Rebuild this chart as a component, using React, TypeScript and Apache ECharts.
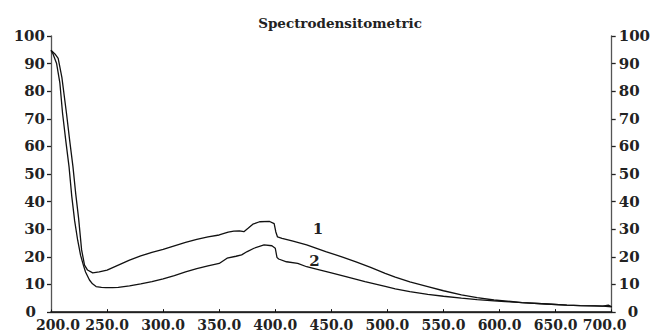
import React, { useEffect, useRef } from "react";
import * as echarts from "echarts";

const chartTitle = "Spectrodensitometric";
const xTickMin = 200;
const xTickMax = 700;
const xTickStep = 50;
const yTickMin = 0;
const yTickMax = 100;
const yTickStep = 10;

const wavelength1 = [
  200, 203.5, 206.4, 209.7, 213.8, 216.7, 219.6, 222, 224.6, 227.3, 229.9, 232.6, 237.2, 243, 250,
  260, 270, 280, 290, 300, 310, 320, 330, 340, 350, 358, 363, 368, 372, 376, 380, 386, 395, 399,
  400.5, 402, 406, 415, 428, 445, 460, 472, 485, 498, 507, 520, 536, 550, 566, 580, 595, 610, 620,
  642, 660, 672, 685, 692, 697, 700,
];
const absorb1 = [
  94.8, 93.5, 91.9, 85, 72, 62, 52.6, 43, 34, 22.5, 17, 15.2, 14.2, 14.5, 15.2,
  17, 18.8, 20.3, 21.6, 22.7, 24.0, 25.2, 26.3, 27.2, 27.9, 28.9, 29.3, 29.4, 29.1, 30.4, 31.8,
  32.7, 32.8, 32.0, 29, 27.2, 26.7, 25.8, 24.3, 21.9, 19.9, 18.2, 16.2, 14.0, 12.6, 10.9, 9.2,
  7.7, 6.2, 5.2, 4.35, 3.8, 3.4, 2.9, 2.5, 2.3, 2.2, 2.1, 2.5, 1.9,
];

const wavelength2 = [
  200, 201.8, 205, 207.9, 210.3, 213.2, 216.1, 218.5, 221.1, 223.8, 226.4, 229, 230.8, 234.3, 237,
  240.2, 245, 249, 255, 260, 270, 280, 290, 300, 310, 320, 330, 340, 350, 357, 365, 370, 375, 381,
  390, 397, 400, 401.5, 403, 410, 420, 428, 434, 450, 463, 480, 498, 507, 520, 536, 550, 566, 580,
  595, 605, 610, 620, 642, 660, 672, 685, 692, 700,
];
const absorb2 = [
  94.8, 93.5, 90, 83, 72, 62, 52.6, 42, 33, 26, 20.5, 16.8, 14.5, 11.6, 10.2, 9.2, 8.9,
  8.8, 8.8, 8.9, 9.5, 10.2, 11.0, 12.0, 13.2, 14.5, 15.7, 16.7, 17.6, 19.5, 20.2, 20.7, 21.9,
  23.1, 24.3, 24.0, 23.1, 19.8, 19.2, 18.2, 17.6, 16.4, 15.8, 14.2, 12.8, 11.0, 9.3, 8.4, 7.4,
  6.4, 5.7, 5.0, 4.5, 4.0, 3.75, 3.7, 3.4, 2.9, 2.5, 2.3, 2.2, 2.1, 1.9,
];

const seriesNames = ["1", "2"];
const labelCoords: [number, number][] = [
  [438, 30],
  [435, 18.6],
];

const FONT = "DejaVu Serif";

export default function App() {
  const ref = useRef<HTMLDivElement>(null);
  useEffect(() => {
    if (!ref.current) return;
    const chart = echarts.init(ref.current, undefined, { renderer: "svg" });
    const pairs = (xs: number[], ys: number[]) => xs.map((x, i) => [x, ys[i]]);
    const seriesData = [pairs(wavelength1, absorb1), pairs(wavelength2, absorb2)];
    const axisLine = { show: true, lineStyle: { color: "#555", width: 1.3 } };
    const lblFont = { fontFamily: FONT, fontWeight: "bold", fontSize: 14, color: "#222" };
    const yFont = { fontFamily: FONT, fontWeight: "bold", fontSize: 15, color: "#222" };
    const yAxisBase = (pos: "left" | "right", pad: number[]) => ({
      type: "value",
      position: pos,
      min: yTickMin,
      max: yTickMax,
      interval: yTickStep,
      axisLine,
      axisTick: { show: true, inside: false, length: 4, lineStyle: { color: "#222", width: 1.3 } },
      splitLine: { show: false },
      axisLabel: {
        margin: pos === "left" ? 6 : 7,
        ...yFont,
        formatter: (v: number) => (v === yTickMin ? `{zero|${v}}` : `${v}`),
        rich: { zero: { ...yFont, padding: pad } },
      },
    });
    chart.setOption({
      animation: false,
      backgroundColor: "#fff",
      title: {
        text: chartTitle,
        left: 335,
        top: 11,
        textAlign: "center",
        textStyle: { fontFamily: FONT, fontWeight: "bold", fontSize: 13.5, color: "#222" },
      },
      grid: { left: 51, right: 34, top: 36, bottom: 20, containLabel: false },
      xAxis: [
        {
          type: "value",
          position: "bottom",
          min: xTickMin,
          max: xTickMax,
          interval: xTickStep,
          axisLine,
          axisTick: { show: true, inside: true, length: 3, lineStyle: { color: "#333" } },
          splitLine: { show: false },
          axisLabel: {
            margin: 6,
            ...lblFont,
            formatter: (v: number) => {
              const s = v.toFixed(1);
              if (v === xTickMin) return `{first|${s}}`;
              if (v === xTickMax) return `{last|${s}}`;
              return s;
            },
            rich: {
              first: { ...lblFont, padding: [0, 0, 0, 14] },
              last: { ...lblFont, padding: [0, 14, 0, 0] },
            },
          },
        },
        {
          type: "value",
          position: "top",
          min: xTickMin,
          max: xTickMax,
          interval: xTickStep,
          axisLine: { show: true, lineStyle: { color: "#111", width: 1.6 } },
          axisTick: { show: true, inside: false, length: 2, lineStyle: { color: "#111" } },
          splitLine: { show: false },
          axisLabel: { show: false },
        },
      ],
      yAxis: [yAxisBase("left", [0, 9, 0, 0]), yAxisBase("right", [0, 0, 0, 9])],
      series: seriesData.map((d, i) => ({
        type: "line",
        name: seriesNames[i],
        data: d,
        xAxisIndex: 0,
        yAxisIndex: 0,
        showSymbol: false,
        symbol: "none",
        lineStyle: { color: "#111", width: 1.3 },
        markPoint: {
          symbol: "circle",
          symbolSize: 0,
          data: [
            {
              coord: labelCoords[i],
              label: {
                show: true,
                formatter: seriesNames[i],
                position: "inside",
                fontFamily: FONT,
                fontWeight: "bold",
                fontSize: 15,
                color: "#222",
              },
            },
          ],
        },
      })),
    });
    return () => chart.dispose();
  }, []);
  return (
    <div
      ref={ref}
      style={{ position: "fixed", left: 0, top: 0, width: 653, height: 332, background: "#fff" }}
    />
  );
}
